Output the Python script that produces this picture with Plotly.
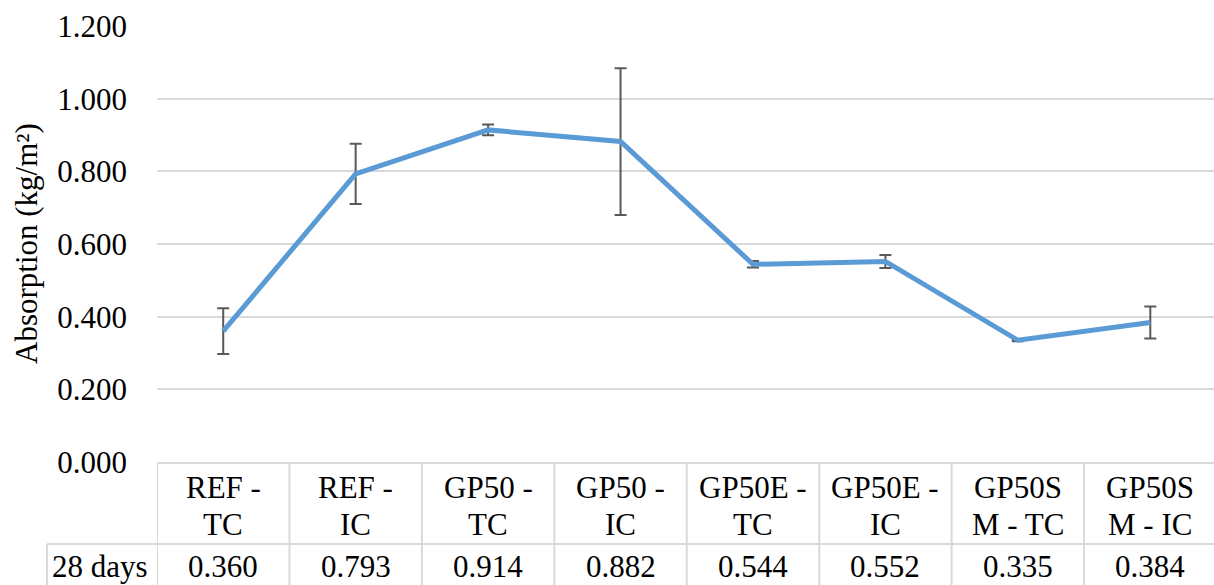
import plotly.graph_objects as go

categories = ["REF -<br>TC", "REF -<br>IC", "GP50 -<br>TC", "GP50 -<br>IC",
              "GP50E -<br>TC", "GP50E -<br>IC", "GP50S<br>M - TC", "GP50S<br>M - IC"]
values_28d = [0.360, 0.793, 0.914, 0.882, 0.544, 0.552, 0.335, 0.384]
errors_28d = [0.063, 0.083, 0.015, 0.202, 0.009, 0.018, 0.003, 0.044]
row_label = "28 days"
y_ticks = [0.0, 0.2, 0.4, 0.6, 0.8, 1.0, 1.2]

FONT = "Liberation Serif, Times New Roman, serif"
FS = 31
GRID = "#D9D9D9"

W, H = 1214, 585
L, R, T, B = 157, 0, 26, 123
plot_h = H - T - B
plot_w = W - L - R

def py(p):  # pixel y -> paper y
    return (H - B - p) / plot_h

def px(p):  # pixel x -> paper x
    return (p - L) / plot_w

xs = list(range(len(categories)))

fig = go.Figure()
fig.add_trace(go.Scatter(
    x=xs, y=values_28d, mode="lines",
    line=dict(color="#5B9BD5", width=5),
    error_y=dict(type="data", array=errors_28d, visible=True,
                 color="#595959", thickness=2, width=6),
    showlegend=False, hoverinfo="skip",
))

shapes = []
for i in range(len(categories)):
    shapes.append(dict(type="line", xref="x", yref="paper",
                       x0=i - 0.5, x1=i - 0.5, y0=py(H + 5), y1=0,
                       line=dict(color=GRID, width=2)))
shapes.append(dict(type="line", xref="paper", yref="paper",
                   x0=px(47), x1=1, y0=py(544), y1=py(544),
                   line=dict(color=GRID, width=2)))
shapes.append(dict(type="line", xref="paper", yref="paper",
                   x0=px(47), x1=px(47), y0=py(H + 5), y1=py(544),
                   line=dict(color=GRID, width=2)))

txtfont = dict(family=FONT, size=FS, color="#000000")
annotations = []
for i, (c, v) in enumerate(zip(categories, values_28d)):
    lines = c.split("<br>")
    for k, ln in enumerate(lines):
        annotations.append(dict(x=i, y=py(487 + 37 * k), xref="x", yref="paper",
                                text=ln, showarrow=False, xanchor="center", yanchor="middle",
                                font=txtfont))
    annotations.append(dict(x=i, y=py(585), xref="x", yref="paper",
                            text=f"{v:.3f}", showarrow=False, xanchor="center", yanchor="bottom",
                            borderpad=0, font=txtfont))
annotations.append(dict(x=px(100), y=py(585), xref="paper", yref="paper",
                        text=row_label, showarrow=False, xanchor="center", yanchor="bottom",
                        borderpad=0, font=txtfont))
annotations.append(dict(x=px(26), y=py(244), xref="paper", yref="paper",
                        text="Absorption (kg/m²)", textangle=-90, showarrow=False,
                        xanchor="center", yanchor="middle",
                        font=txtfont))

fig.update_layout(
    width=W, height=H,
    margin=dict(l=L, r=R, t=T, b=B, pad=0),
    paper_bgcolor="white", plot_bgcolor="white",
    shapes=shapes, annotations=annotations,
    xaxis=dict(range=[-0.5, 7.481], showticklabels=False, showgrid=False,
               zeroline=False, showline=True, linecolor=GRID, linewidth=2,
               fixedrange=True),
    yaxis=dict(range=[0, 1.2], tickvals=y_ticks, tickformat=".3f",
               showgrid=True, gridcolor=GRID, gridwidth=2, zeroline=False,
               showline=False, ticks="", ticklabelstandoff=29,
               tickfont=txtfont, fixedrange=True),
)

fig.write_html("out.html", config={"displayModeBar": False},
               post_script="document.body.style.margin='0';document.body.style.overflow='hidden';")
